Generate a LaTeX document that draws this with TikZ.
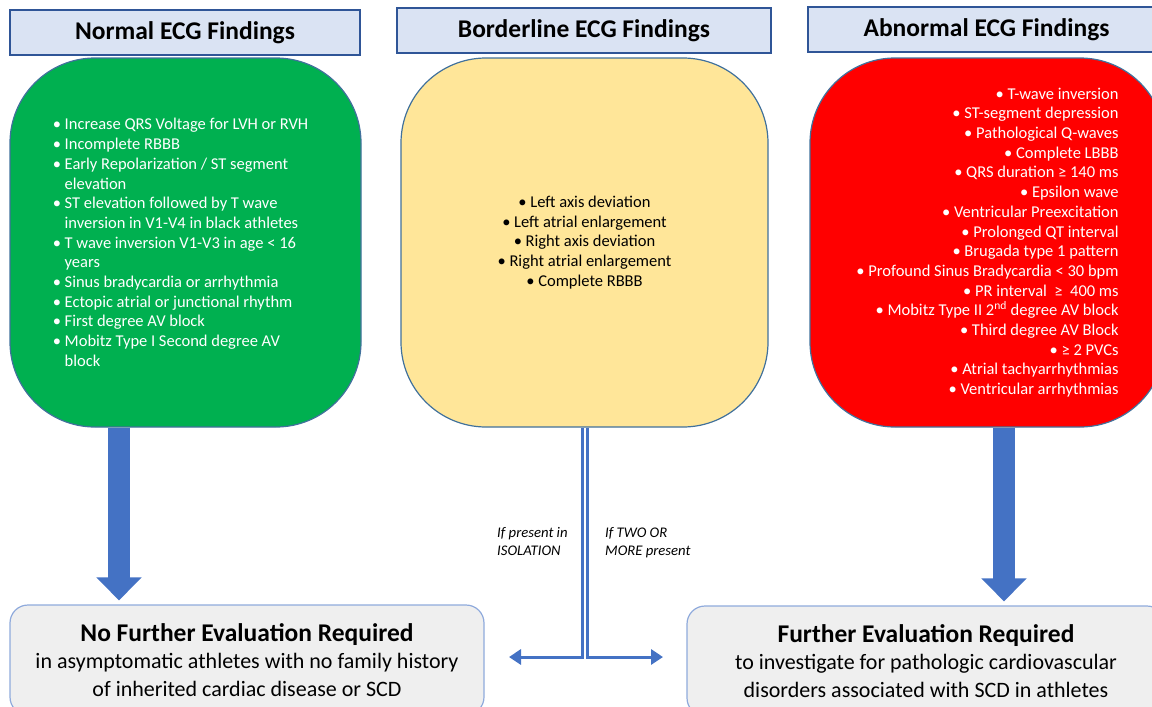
\documentclass[tikz,border=0pt]{standalone}
\usepackage{fontspec}
\setmainfont{Carlito}
\usetikzlibrary{arrows.meta}
\definecolor{hdrfill}{HTML}{DAE3F3}
\definecolor{hdrline}{HTML}{2F5597}
\definecolor{boxline}{HTML}{41719C}
\definecolor{ngreen}{HTML}{00B050}
\definecolor{nyellow}{HTML}{FFE699}
\definecolor{nred}{HTML}{FF0000}
\definecolor{botfill}{HTML}{EFEFEF}
\definecolor{botline}{HTML}{8FAADC}
\definecolor{arr}{HTML}{4472C4}
\newcommand{\bl}{\textbullet\ }
\newcommand{\ind}{\phantom{\textbullet\ }}
\begin{document}
\begin{tikzpicture}[x=1pt,y=-1pt,
  hdr/.style={draw=hdrline, line width=1.3pt, fill=hdrfill, inner sep=0pt,
    minimum height=45pt, font=\fontsize{25.5}{30}\selectfont\bfseries},
  findbox/.style={draw=boxline, line width=1.2pt, rounded corners=85pt, inner sep=0pt,
    minimum height=369pt, font=\fontsize{16.5}{19.7}\selectfont},
  outbox/.style={draw=botline, line width=1.2pt, fill=botfill, rounded corners=18pt,
    inner sep=0pt, minimum height=110pt, align=center, font=\fontsize{22}{27.5}\selectfont},
  bigarrow/.style={draw=arr, line width=22pt, -{Triangle[width=44pt,length=23pt]}},
  thinarrow/.style={draw=arr, line width=3pt, -{Triangle[width=15pt,length=12pt]}},
  lbl/.style={inner sep=0pt, align=left, font=\fontsize{14.7}{18}\selectfont\itshape}
]
\useasboundingbox (0,0) rectangle (1152,707);
\clip (0,0) rectangle (1152,707);

% headers
\node[hdr, minimum width=350pt] (h1) at (185,32.5) {Normal ECG Findings};
\node[hdr, minimum width=374pt] (h2) at (584,30.5) {Borderline ECG Findings};
\node[hdr, minimum width=357pt] (h3) at (986.5,29.5) {Abnormal ECG Findings};

% finding boxes
\node[findbox, fill=ngreen, text=white, minimum width=351pt, align=left] (g) at (185.5,242.5) {%
\bl Increase QRS Voltage for LVH or RVH\rule{10pt}{0pt}\\
\bl Incomplete RBBB\\
\bl Early Repolarization / ST segment\\
\ind elevation\\
\bl ST elevation followed by T wave\\
\ind inversion in V1-V4 in black athletes\\
\bl T wave inversion V1-V3 in age < 16\\
\ind years\\
\bl Sinus bradycardia or arrhythmia\\
\bl Ectopic atrial or junctional rhythm\\
\bl First degree AV block\\
\bl Mobitz Type I Second degree AV\\
\ind block};

\node[findbox, fill=nyellow, text=black, minimum width=367pt, align=center] (y) at (584.5,242.5) {%
\bl Left axis deviation\\
\bl Left atrial enlargement\\
\bl Right axis deviation\\
\bl Right atrial enlargement\\
\bl Complete RBBB};

\node[findbox, fill=nred, text=white, minimum width=355pt, align=right] (r) at (987.5,242.5) {%
\bl T-wave inversion\\
\bl ST-segment depression\\
\bl Pathological Q-waves\\
\bl Complete LBBB\\
\bl QRS duration ≥ 140 ms\\
\bl Epsilon wave\\
\bl Ventricular Preexcitation\\
\bl Prolonged QT interval\\
\bl Brugada type 1 pattern\\
\bl Profound Sinus Bradycardia < 30 bpm\\
\bl PR interval \ ≥ \ 400 ms\\
\bl Mobitz Type II 2\textsuperscript{nd} degree AV block\\
\bl Third degree AV Block\\
\bl ≥ 2 PVCs\\
\bl Atrial tachyarrhythmias\\
\bl Ventricular arrhythmias};

% outcome boxes
\node[outbox, minimum width=474pt] (nf) at (247,660) {%
{\fontsize{25.5}{27.5}\selectfont\bfseries No Further Evaluation Required}\\
in asymptomatic athletes with no family history\\
of inherited cardiac disease or SCD};
\node[outbox, minimum width=478pt] (fe) at (926,661) {%
{\fontsize{25.5}{27.5}\selectfont\bfseries Further Evaluation Required}\\
to investigate for pathologic cardiovascular\\
disorders associated with SCD in athletes};

% big arrows
\coordinate (gx) at (119,0);
\coordinate (rx) at (1004,0);
\draw[bigarrow, shorten >=4pt] (g.south -| gx) -- (nf.north -| gx);
\draw[bigarrow, shorten >=4pt] (r.south -| rx) -- (fe.north -| rx);

% split arrows
\coordinate (blx) at (582,0);
\coordinate (brx) at (587,0);
\coordinate (lt) at (509,657);
\coordinate (rt) at (663,657);
\draw[thinarrow] (y.south -| blx) |- (lt);
\draw[thinarrow] (y.south -| brx) |- (rt);

% labels
\node[lbl, anchor=north west] (l1) at (497,527) {If present in\\ISOLATION};
\node[lbl, anchor=north west] (l2) at (605,527) {If TWO OR\\MORE present};
\end{tikzpicture}
\end{document}
